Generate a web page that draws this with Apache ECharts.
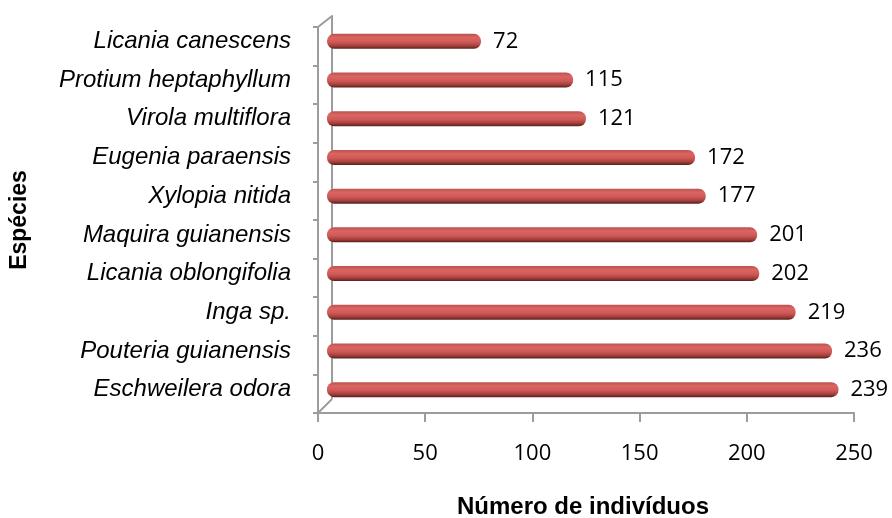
<!DOCTYPE html>
<html>
<head>
<meta charset="utf-8">
<script src="https://cdn.jsdelivr.net/npm/echarts@6/dist/echarts.min.js"></script>
<style>
html,body{margin:0;padding:0;background:#fff;}
#main{width:892px;height:518px;}
</style>
</head>
<body>
<div id="main"></div>
<script>
// species from bottom to top
var especies = ['Eschweilera odora', 'Pouteria guianensis', 'Inga sp.', 'Licania oblongifolia',
	'Maquira guianensis', 'Xylopia nitida', 'Eugenia paraensis', 'Virola multiflora',
	'Protium heptaphyllum', 'Licania canescens'];
var individuos = [239, 236, 219, 202, 201, 177, 172, 121, 115, 72];
var ticksX = [0, 50, 100, 150, 200, 250];

var cinza = '#9c9c9c';
var myChart = echarts.init(document.getElementById('main'));

var barColor = new echarts.graphic.LinearGradient(0, 0, 0, 1, [
	{offset: 0, color: '#b9524f'},
	{offset: 0.25, color: '#dc6562'},
	{offset: 0.55, color: '#cf5956'},
	{offset: 0.8, color: '#a3403d'},
	{offset: 1, color: '#5a1d1b'}
]);

myChart.setOption({
	animation: false,
	grid: [
		{left: 318, right: 38, top: 27, bottom: 105, outerBoundsMode: 'none'},   // front axes
		{left: 327, right: 30, top: 22, bottom: 109, outerBoundsMode: 'none'},   // bars
		{left: 332, right: 30, top: 16, bottom: 120, outerBoundsMode: 'none'}    // back wall
	],
	xAxis: [{
		gridIndex: 0, type: 'value', min: ticksX[0], max: ticksX[ticksX.length - 1], interval: 50,
		axisLine: {show: true, lineStyle: {color: cinza, width: 2}},
		axisTick: {show: true, length: 9, lineStyle: {color: cinza, width: 2}},
		splitLine: {show: false},
		axisLabel: {margin: 30, fontSize: 22, color: '#000', fontFamily: 'Open Sans'},
		name: 'Número de indivíduos', nameLocation: 'middle', nameGap: 82,
		nameTextStyle: {fontSize: 24, fontWeight: 'bold', color: '#000', fontFamily: 'Liberation Sans', padding: [0, 6, 0, 0]}
	}, {
		gridIndex: 1, type: 'value', min: 0, max: 250, show: false
	}, {
		gridIndex: 2, type: 'value', min: 0, max: 250, show: false
	}],
	yAxis: [{
		gridIndex: 0, type: 'category', data: especies,
		axisLine: {show: true, lineStyle: {color: cinza, width: 2}},
		axisTick: {show: true, length: 5, lineStyle: {color: cinza, width: 2}},
		axisLabel: {show: false},
		name: 'Espécies', nameLocation: 'middle', nameGap: 287, nameRotate: 90,
		nameTextStyle: {fontSize: 23, fontWeight: 'bold', color: '#000', fontFamily: 'Liberation Sans'}
	}, {
		gridIndex: 1, type: 'category', data: especies,
		axisLine: {show: false}, axisTick: {show: false},
		axisLabel: {margin: 36, fontSize: 24, fontStyle: 'italic', color: '#000', fontFamily: 'Liberation Sans'}
	}, {
		gridIndex: 2, type: 'category', data: especies,
		axisLine: {show: true, lineStyle: {color: cinza, width: 2}},
		axisTick: {show: false}, axisLabel: {show: false}
	}],
	graphic: [
		{type: 'line', shape: {x1: 318, y1: 27, x2: 332, y2: 16}, style: {stroke: cinza, lineWidth: 2}},
		{type: 'line', shape: {x1: 318, y1: 413, x2: 332, y2: 399}, style: {stroke: cinza, lineWidth: 2}}
	],
	series: [{
		type: 'bar',
		xAxisIndex: 1, yAxisIndex: 1,
		data: individuos,
		barWidth: 15,
		itemStyle: {color: barColor, borderRadius: 7},
		label: {
			show: true, position: 'right', distance: 12,
			fontSize: 22, color: '#000', fontFamily: 'Open Sans'
		}
	}]
});
</script>
</body>
</html>
